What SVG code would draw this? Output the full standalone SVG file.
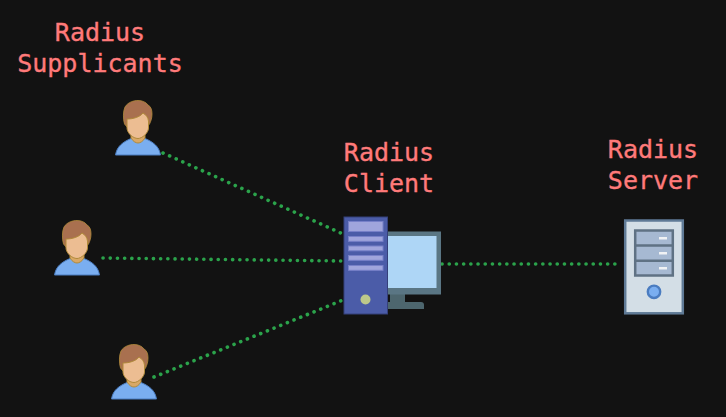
<svg xmlns="http://www.w3.org/2000/svg" width="726" height="417" viewBox="0 0 726 417">
<style>
.lbl{font-family:"DejaVu Sans Mono","Liberation Mono",monospace;font-size:25px;fill:#ff7a7a;stroke:#ff7a7a;stroke-width:0.35;text-anchor:middle}
.link{fill:none;stroke:#2ba34b;stroke-width:3.600;stroke-linecap:round;stroke-dasharray:0.1 7.1}
.bar{fill:#a0a5dc;stroke:#7780c8;stroke-width:1}
</style>
<defs>
<g id="person">
<path d="M0.500,55 C2,46 8,42 16,38.500 L30,38.500 C38,42 44,46 45.500,55 Z" fill="#7aaef0" stroke="#4a7cc0" stroke-width="1"/>
<path d="M16,38 L16,31 L30,31 L30,38 C28,41.500 25,43 23,43 C21,43 18,41.500 16,38 Z" fill="#d9a866" stroke="#b08a3a" stroke-width="1"/>
<path d="M9.500,24 C8,19 8,11 10,7 C13,2 19,0.500 23,0.500 C27,0.500 31,2 33,5 C36,6.500 37,10 37,14 C37,18 36,21 34.500,24 L32,27 L12,27 Z" fill="#a9704f" stroke="#b08a3a" stroke-width="0.800"/>
<path d="M12,19 C18,19 25,17 28,13 C31,15 33,17 33.500,21 L33.500,28 C33.500,33 27,38.500 23,38.500 C18,38.500 12,33 12,28 Z" fill="#ecbd92" stroke="#b08a3a" stroke-width="1"/>
</g>
</defs>
<rect width="726" height="417" fill="#121212"/>
<g id="connectors">
<path class="link" d="M163,153 L343,234"/>
<path class="link" d="M103,258 L342,261"/>
<path class="link" d="M154,377 L343,300"/>
<path class="link" d="M442,264 L622,264"/>
</g>
<g id="supplicant-1"><use href="#person" x="115" y="100"/></g>
<g id="supplicant-2"><use href="#person" x="54" y="220"/></g>
<g id="supplicant-3"><use href="#person" x="111" y="344"/></g>
<g id="client">
<path d="M388,302 H421 Q424,302 424,305 V309 H388 Z" fill="#4d666e"/>
<rect x="390" y="293" width="15" height="10" fill="#4d666e"/>
<rect x="386" y="231.500" width="55" height="63" fill="#5a7684"/>
<rect x="386" y="236" width="50.500" height="52" fill="#aed6f6"/>
<rect x="344" y="217" width="43.500" height="97" fill="#4b5ca8" stroke="#35407a" stroke-width="1"/>
<rect class="bar" x="348.500" y="221.500" width="34.500" height="10"/>
<rect class="bar" x="348.500" y="236.500" width="34.500" height="4.800"/>
<rect class="bar" x="348.500" y="246" width="34.500" height="4.800"/>
<rect class="bar" x="348.500" y="255.500" width="34.500" height="4.800"/>
<rect class="bar" x="348.500" y="265.500" width="34.500" height="4.800"/>
<circle cx="365.500" cy="299.500" r="5" fill="#bcc88a"/>
</g>
<g id="server">
<rect x="625.200" y="220.500" width="57.600" height="92.800" fill="#d3dee6" stroke="#5f7a96" stroke-width="2.500"/>
<rect x="635.200" y="230.500" width="37.600" height="45" fill="#a6b9d2" stroke="#5f7284" stroke-width="2.500"/>
<path d="M635,245.500 H673 M635,260.700 H673" stroke="#5f7284" stroke-width="2.500"/>
<path d="M659,238.200 H667 M659,253.200 H667 M659,268.200 H667" stroke="#f0f2f4" stroke-width="2.400"/>
<circle cx="654" cy="291.800" r="6.200" fill="#7aaef0" stroke="#4a7cc0" stroke-width="2.400"/>
</g>
<g id="labels">
<text class="lbl" x="100" y="41">Radius</text>
<text class="lbl" x="100" y="72">Supplicants</text>
<text class="lbl" x="389" y="161">Radius</text>
<text class="lbl" x="389" y="192">Client</text>
<text class="lbl" x="653" y="158">Radius</text>
<text class="lbl" x="653" y="189">Server</text>
</g>
</svg>
